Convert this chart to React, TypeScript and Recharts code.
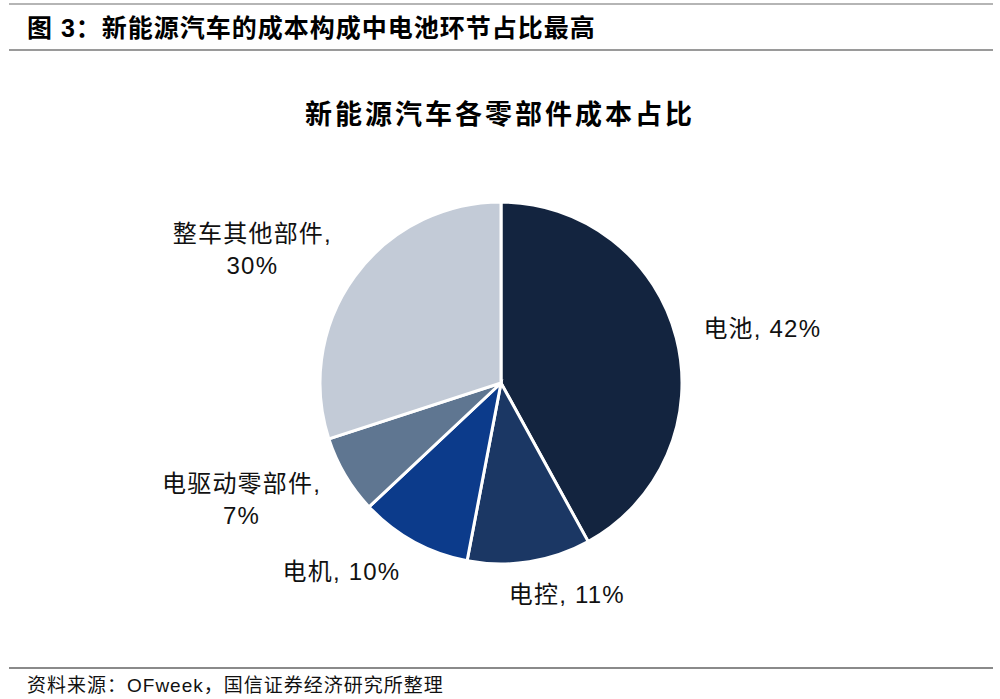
import React from "react";
import { PieChart, Pie, Cell } from "recharts";

const categories = ["电池", "电控", "电机", "电驱动零部件", "整车其他部件"];
const shares = [42, 11, 10, 7, 30];
const colors = ["#13243f", "#1b3764", "#0c3b8b", "#5f7691", "#c3cbd7"];

const headerTitle = "图 3：新能源汽车的成本构成中电池环节占比最高";
const chartTitle = "新能源汽车各零部件成本占比";
const sourceNote = "资料来源：OFweek，国信证券经济研究所整理";

const data = categories.map((name, i) => ({ name, value: shares[i] }));

const LABEL_FONT = 24;
const LABEL_SPACING = 1.2;
const FONT = "'Liberation Sans', 'Noto Sans CJK SC', sans-serif";

function textWidth(s: string, fs: number): number {
  let w = 0;
  for (const ch of s) {
    if (/[0-9]/.test(ch)) w += 0.556 * fs;
    else if (ch === "%") w += 0.889 * fs;
    else if (ch === "," || ch === " ") w += 0.278 * fs;
    else w += fs;
    w += LABEL_SPACING;
  }
  return w;
}

const renderLabel = (props: any) => {
  const { cx, cy, midAngle, outerRadius, name, value } = props;
  const RAD = Math.PI / 180;
  const cos = Math.cos(-midAngle * RAD);
  const sin = Math.sin(-midAngle * RAD);
  const r = outerRadius + 28;
  const px = cx + r * cos;
  const py = cy + r * sin;
  const lines = name.length >= 4 ? [name + ",", value + "%"] : [name + ", " + value + "%"];
  const lh = 32;
  const w = Math.max(...lines.map((l) => textWidth(l, LABEL_FONT)));
  const h = lines.length === 1 ? LABEL_FONT : lh + LABEL_FONT;
  const s = Math.max(-1, Math.min(1, cos * 3.6));
  const bx = px + (w / 2) * s;
  const by = py + (h / 2) * sin * (1 - Math.abs(sin) * 0.6);
  const y0 = by - ((lines.length - 1) * lh) / 2;
  return (
    <text
      x={bx}
      y={y0}
      textAnchor="middle"
      dominantBaseline="central"
      fill="#111"
      fontSize={LABEL_FONT}
      fontFamily={FONT}
      letterSpacing={LABEL_SPACING}
    >
      {lines.map((l, i) => (
        <tspan key={i} x={bx} y={y0 + i * lh} dominantBaseline="central">
          {l}
        </tspan>
      ))}
    </text>
  );
};

export default function App() {
  return (
    <div
      style={{
        position: "absolute",
        left: 0,
        top: 0,
        width: 1000,
        height: 699,
        background: "#ffffff",
        overflow: "hidden",
      }}
    >
      <svg width={1000} height={699} style={{ position: "absolute", left: 0, top: 0 }}>
        <line x1={9} y1={4} x2={993} y2={4} stroke="#b5b5b5" strokeWidth={2} />
        <text
          x={27}
          y={28}
          fontSize={25}
          fontWeight="bold"
          fontFamily={FONT}
          dominantBaseline="central"
          letterSpacing={1}
          fill="#000"
        >
          {headerTitle}
        </text>
        <line x1={9} y1={50} x2={993} y2={50} stroke="#9a9a9a" strokeWidth={2} />
        <text
          x={500}
          y={115}
          fontSize={27}
          fontWeight="bold"
          fontFamily={FONT}
          textAnchor="middle"
          dominantBaseline="central"
          letterSpacing={3}
          fill="#000"
        >
          {chartTitle}
        </text>
        <line x1={9} y1={668} x2={993} y2={668} stroke="#8a8a8a" strokeWidth={2} />
        <text
          x={27}
          y={685}
          fontSize={19}
          fontFamily={FONT}
          dominantBaseline="central"
          letterSpacing={1}
          fill="#111"
        >
          {sourceNote}
        </text>
      </svg>
      <div style={{ position: "absolute", left: 0, top: 0 }}>
        <PieChart width={1000} height={699} margin={{ top: 0, right: 0, bottom: 0, left: 0 }}>
          <Pie
            data={data}
            dataKey="value"
            nameKey="name"
            cx={501}
            cy={383}
            outerRadius={181}
            startAngle={90}
            endAngle={-270}
            stroke="#ffffff"
            strokeWidth={3}
            label={renderLabel}
            labelLine={false}
            isAnimationActive={false}
          >
            {data.map((d, i) => (
              <Cell key={d.name} fill={colors[i]} />
            ))}
          </Pie>
        </PieChart>
      </div>
    </div>
  );
}
